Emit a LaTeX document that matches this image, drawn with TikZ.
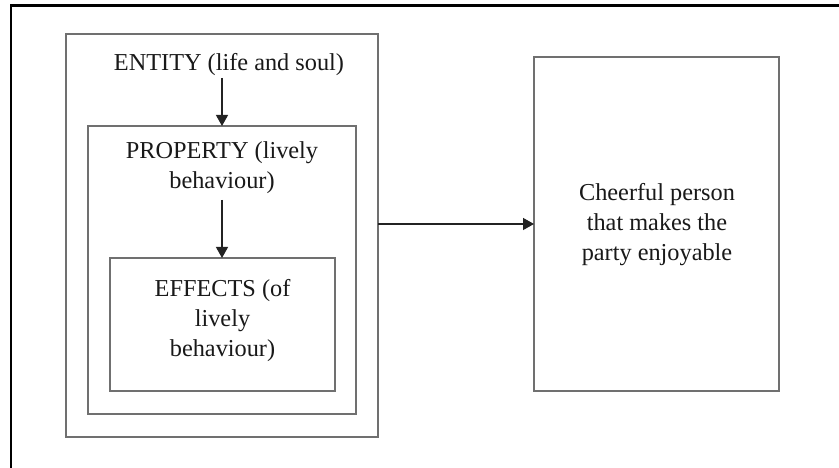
\documentclass[tikz,border=0pt]{standalone}
\usepackage{fontspec}
\setmainfont{Liberation Serif}
\usetikzlibrary{arrows.meta}
\definecolor{boxgray}{RGB}{112,112,112}
\definecolor{arrowcol}{RGB}{35,35,35}
\tikzset{
  frame/.style={draw=black, line width=2.6bp},
  box/.style={draw=boxgray, line width=1.6bp, inner sep=0pt, outer sep=0pt, fill=none},
  txt/.style={inner sep=0pt, outer sep=0pt, align=center, font=\fontsize{24.3bp}{30bp}\selectfont, text=black!90},
  conn/.style={draw=arrowcol, line width=1.3bp, -{Triangle[length=11bp,width=12bp]}}
}
\begin{document}
\begin{tikzpicture}[x=1bp,y=-1bp]
\useasboundingbox (0,0) rectangle (839,468);
\fill[white] (0,0) rectangle (839,468);
\coordinate (fc) at (11,5.5);
\coordinate (fr) at (839,5.5);
\coordinate (fb) at (11,468);
\draw[frame] (fb) -- (fc) -- (fr);

\node[box, minimum width=312bp, minimum height=403bp] (b1) at (222,235.5) {};
\node[box, minimum width=268bp, minimum height=288bp] (b2) at (222,270) {};
\node[box, minimum width=225bp, minimum height=133bp] (b3) at (222.5,324.5) {};
\node[box, minimum width=245bp, minimum height=334bp] (b4) at (656.5,224) {};

\node[txt, anchor=base] (t1) at (229,71) {ENTITY (life and soul)};
\node[txt, anchor=north] (t2) at (222,141.5) {PROPERTY (lively\\behaviour)};
\node[txt, anchor=north] (t3) at (222.5,279.5) {EFFECTS (of\\lively\\behaviour)};
\node[txt, anchor=north] (t4) at (657,183.5) {Cheerful person\\that makes the\\party enjoyable};

\coordinate (a1s) at (222,78);
\coordinate (a2s) at (222,200);
\draw[conn] (a1s) -- (a1s |- b2.north);
\draw[conn] (a2s) -- (a2s |- b3.north);
\draw[conn] (b1.east |- 0,224) -- (b4.west |- 0,224);
\end{tikzpicture}
\end{document}
